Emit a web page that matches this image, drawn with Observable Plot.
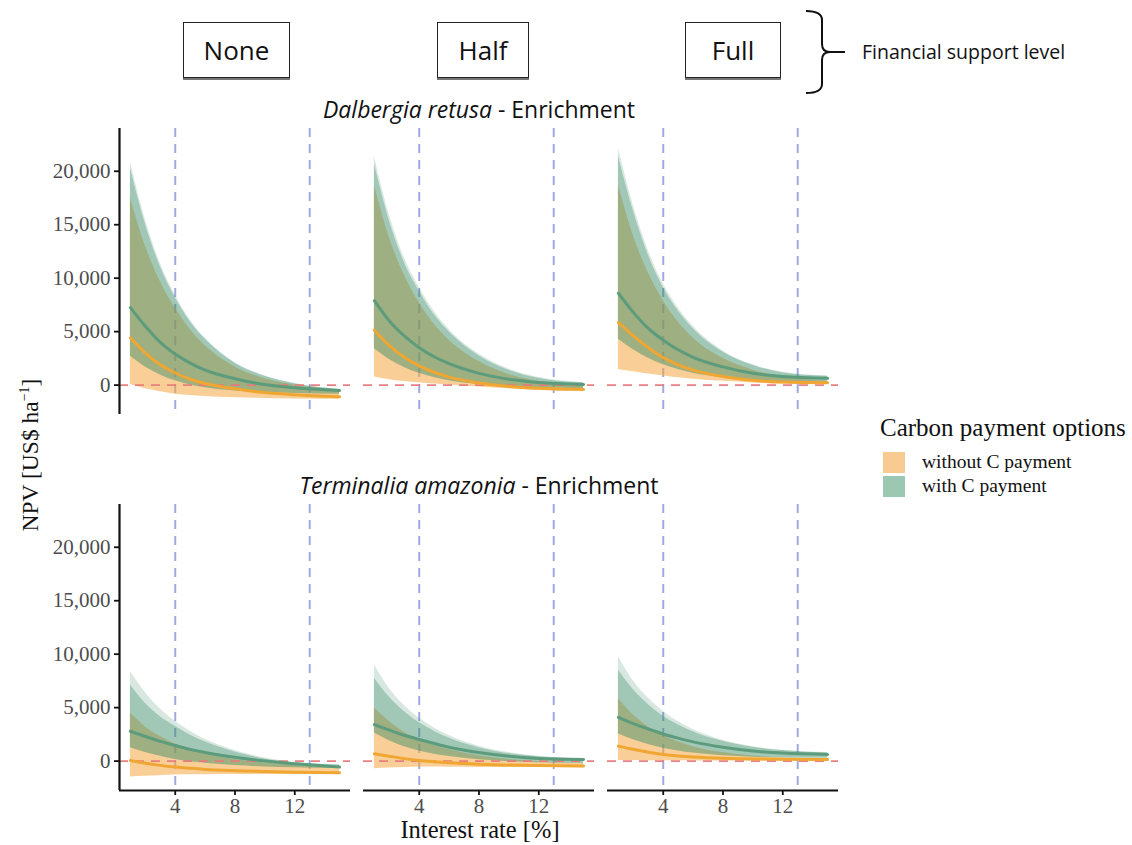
<!DOCTYPE html>
<html>
<head>
<meta charset="utf-8">
<script src="https://cdn.jsdelivr.net/npm/d3@7"></script>
<script src="https://cdn.jsdelivr.net/npm/@observablehq/plot@0.6"></script>
<style>
  body { margin: 0; background: #fff; }
  #wrap { position: relative; width: 1132px; height: 845px; overflow: hidden; }
  #header { position: relative; height: 90px; }
  .box { position: absolute; top: 22px; height: 56px; border: 1.5px solid #222; box-shadow: 0 2px 0 #777;
         box-sizing: border-box; font-family: "Open Sans", sans-serif; font-size: 26px; color: #111;
         display: flex; align-items: center; justify-content: center; }
  #brace { position: absolute; left: 800px; top: 0; }
  #fsl { position: absolute; left: 862px; top: 38px; font-family: "Open Sans", sans-serif; font-size: 19.5px; color: #111; }
  #legend { position: absolute; left: 880px; top: 414px; font-family: "Liberation Serif", serif; color: #111; }
  #legend .ttl { font-size: 25px; margin-bottom: 8px; }
  #legend .item { display: flex; align-items: center; height: 24px; font-size: 19.5px; }
  #legend .sw { width: 22px; height: 21px; margin-left: 3px; margin-right: 17px; }
  #chart { display: block; }
</style>
</head>
<body>
<div id="wrap">
  <div id="header"></div>
  <div id="chart"></div>
  <div id="legend"></div>
</div>
<script>
// ---------------- data ----------------
const rates = [1, 2, 3, 4, 5, 6, 8, 10, 12, 15];
const supportLevels = ["None", "Half", "Full"];
const speciesNames = ["Dalbergia retusa", "Terminalia amazonia"];
const seriesNames = ["without C payment", "with C payment"];
const yTicks = [0, 5000, 10000, 15000, 20000];
const xTicks = [4, 8, 12];
const refRates = [4, 13];
const titleSuffix = " - Enrichment";
const headerLabel = "Financial support level";
const legendTitle = "Carbon payment options";

// Dalbergia retusa – None
const dalNone_noC_med = [4420, 3000, 1900, 1130, 550, 150, -350, -700, -900, -1100];
const dalNone_noC_lo  = [50, -350, -620, -850, -980, -1070, -1180, -1250, -1290, -1320];
const dalNone_noC_hi  = [17500, 13000, 9700, 7200, 5200, 3700, 1700, 600, 0, -450];
const dalNone_C_med   = [7240, 5500, 4000, 2900, 2050, 1400, 600, 50, -250, -500];
const dalNone_C_lo    = [2700, 1700, 950, 400, 0, -250, -550, -700, -780, -850];
const dalNone_C_hi    = [20300, 15100, 11100, 8200, 5950, 4300, 2050, 820, 130, -410];
const dalNone_C_hi2   = [20900, 15500, 11400, 8450, 6100, 4420, 2120, 860, 160, -390];
// Dalbergia retusa – Half
const dalHalf_noC_med = [5140, 3700, 2600, 1790, 1200, 750, 200, -120, -300, -400];
const dalHalf_noC_lo  = [750, 500, 340, 220, 100, 0, -180, -350, -500, -630];
const dalHalf_noC_hi  = [18700, 13800, 10300, 7700, 5700, 4200, 2200, 1000, 350, -150];
const dalHalf_C_med   = [7900, 6000, 4600, 3500, 2650, 2000, 1100, 550, 250, 60];
const dalHalf_C_lo    = [3400, 2400, 1650, 1100, 700, 400, 50, -150, -250, -330];
const dalHalf_C_hi    = [20700, 15400, 11500, 8800, 6600, 5000, 2750, 1400, 650, 220];
const dalHalf_C_hi2   = [21400, 15900, 11900, 9150, 6900, 5200, 2900, 1500, 700, 250];
// Dalbergia retusa – Full
const dalFull_noC_med = [5860, 4600, 3500, 2570, 1900, 1400, 800, 450, 280, 220];
const dalFull_noC_lo  = [1470, 1250, 1030, 850, 680, 550, 350, 200, 100, 60];
const dalFull_noC_hi  = [18700, 14000, 10500, 7900, 5900, 4400, 2500, 1400, 750, 350];
const dalFull_C_med   = [8590, 6800, 5300, 4200, 3300, 2600, 1700, 1100, 800, 630];
const dalFull_C_lo    = [4290, 3300, 2500, 1900, 1450, 1100, 700, 450, 320, 250];
const dalFull_C_hi    = [21400, 16300, 12200, 9150, 6950, 5300, 3100, 1850, 1150, 820];
const dalFull_C_hi2   = [22150, 16800, 12600, 9470, 7200, 5500, 3200, 1900, 1200, 850];
// Terminalia amazonia – None
const terNone_noC_med = [60, -200, -400, -560, -680, -780, -900, -980, -1040, -1090];
const terNone_noC_lo  = [-1490, -1420, -1360, -1300, -1280, -1270, -1260, -1250, -1245, -1240];
const terNone_noC_hi  = [4490, 3200, 2300, 1600, 1100, 700, 150, -200, -420, -600];
const terNone_C_med   = [2790, 2300, 1850, 1460, 1100, 800, 350, 0, -250, -560];
const terNone_C_lo    = [1240, 800, 450, 150, -50, -200, -420, -550, -620, -700];
const terNone_C_hi    = [7130, 5400, 4150, 3260, 2450, 1800, 850, 200, -150, -370];
const terNone_C_hi2   = [8370, 6400, 4900, 3720, 2800, 2050, 1000, 300, -100, -350];
// Terminalia amazonia – Half
const terHalf_noC_med = [680, 450, 230, 60, -60, -160, -290, -370, -420, -460];
const terHalf_noC_lo  = [-710, -650, -600, -560, -560, -570, -590, -600, -610, -620];
const terHalf_noC_hi  = [4960, 3700, 2700, 2000, 1450, 1050, 500, 150, -50, -200];
const terHalf_C_med   = [3410, 2900, 2420, 2020, 1650, 1300, 800, 450, 250, 150];
const terHalf_C_lo    = [2630, 1900, 1350, 950, 650, 420, 130, -50, -150, -230];
const terHalf_C_hi    = [7750, 6000, 4650, 3600, 2800, 2150, 1250, 700, 400, 180];
const terHalf_C_hi2   = [8990, 6800, 5200, 4030, 3100, 2400, 1400, 800, 450, 200];
// Terminalia amazonia – Full
const terFull_noC_med = [1400, 1100, 830, 620, 480, 380, 260, 200, 170, 150];
const terFull_noC_lo  = [60, 50, 40, 30, 25, 20, 10, 5, 0, 0];
const terFull_noC_hi  = [5830, 4300, 3200, 2400, 1800, 1350, 800, 480, 300, 200];
const terFull_C_med   = [4090, 3500, 3000, 2540, 2150, 1800, 1300, 950, 750, 620];
const terFull_C_lo    = [2540, 2000, 1550, 1200, 950, 750, 500, 370, 300, 260];
const terFull_C_hi    = [8530, 6700, 5300, 4200, 3400, 2750, 1850, 1300, 980, 770];
const terFull_C_hi2   = [9770, 7500, 5900, 4650, 3700, 2950, 1950, 1350, 1000, 800];

// ---------------- table ----------------
const panels = [
  [speciesNames[0], supportLevels[0], [dalNone_noC_med, dalNone_noC_lo, dalNone_noC_hi], [dalNone_C_med, dalNone_C_lo, dalNone_C_hi, dalNone_C_hi2]],
  [speciesNames[0], supportLevels[1], [dalHalf_noC_med, dalHalf_noC_lo, dalHalf_noC_hi], [dalHalf_C_med, dalHalf_C_lo, dalHalf_C_hi, dalHalf_C_hi2]],
  [speciesNames[0], supportLevels[2], [dalFull_noC_med, dalFull_noC_lo, dalFull_noC_hi], [dalFull_C_med, dalFull_C_lo, dalFull_C_hi, dalFull_C_hi2]],
  [speciesNames[1], supportLevels[0], [terNone_noC_med, terNone_noC_lo, terNone_noC_hi], [terNone_C_med, terNone_C_lo, terNone_C_hi, terNone_C_hi2]],
  [speciesNames[1], supportLevels[1], [terHalf_noC_med, terHalf_noC_lo, terHalf_noC_hi], [terHalf_C_med, terHalf_C_lo, terHalf_C_hi, terHalf_C_hi2]],
  [speciesNames[1], supportLevels[2], [terFull_noC_med, terFull_noC_lo, terFull_noC_hi], [terFull_C_med, terFull_C_lo, terFull_C_hi, terFull_C_hi2]]
];
const rows = [];
for (const [species, support, o, g] of panels) {
  rates.forEach((rate, i) => {
    rows.push({species, support, rate, series: seriesNames[0], med: o[0][i], lo: o[1][i], hi: o[2][i], hi2: o[2][i]});
    rows.push({species, support, rate, series: seriesNames[1], med: g[0][i], lo: g[1][i], hi: g[2][i], hi2: g[3][i]});
  });
}
const noC = rows.filter(d => d.series === seriesNames[0]);
const withC = rows.filter(d => d.series === seriesNames[1]);
const titles = speciesNames.map(species => ({species, support: supportLevels[1]}));

const orangeFill = "#f5a742", greenFill = "#3a8c68";
const orangeLine = "#f0a632", greenLine = "#5c9c7c";
const xDomain = [0.27, 15.73], yDomain = [-2750, 24000];
const facet = {fx: "support", fy: "species"};

const chart = Plot.plot({
  width: 1132,
  height: 755,
  marginLeft: 118,
  marginRight: 292,
  marginTop: 38,
  marginBottom: 55,
  style: {fontFamily: "Liberation Serif", background: "white"},
  x: {domain: xDomain},
  y: {domain: yDomain},
  fx: {domain: supportLevels, axis: null, paddingInner: 0.053, paddingOuter: 0},
  fy: {domain: speciesNames, axis: null, paddingInner: 0.24, paddingOuter: 0},
  marks: [
    Plot.ruleX(refRates, {stroke: "#a0a9e2", strokeWidth: 2, strokeDasharray: "9,7"}),
    Plot.areaY(noC, {...facet, x: "rate", y1: "lo", y2: "hi", fill: orangeFill, fillOpacity: 0.55, curve: "monotone-x"}),
    Plot.areaY(withC, {...facet, x: "rate", y1: "hi", y2: "hi2", fill: greenFill, fillOpacity: 0.2, curve: "monotone-x"}),
    Plot.areaY(withC, {...facet, x: "rate", y1: "lo", y2: "hi", fill: greenFill, fillOpacity: 0.48, curve: "monotone-x"}),
    Plot.ruleY([0], {stroke: "#e67a7a", strokeWidth: 1.8, strokeDasharray: "9,7", strokeOpacity: 0.95}),
    Plot.lineY(noC, {...facet, x: "rate", y: "med", stroke: orangeLine, strokeWidth: 3, curve: "monotone-x"}),
    Plot.lineY(withC, {...facet, x: "rate", y: "med", stroke: greenLine, strokeWidth: 3, curve: "monotone-x"}),
    Plot.ruleX([xDomain[0]], {facetAnchor: "left", stroke: "#111", strokeWidth: 2.2}),
    Plot.ruleY([yDomain[0]], {facetAnchor: "bottom", stroke: "#111", strokeWidth: 2.2}),
    Plot.axisY({ticks: yTicks, tickFormat: d3.format(","), tickSize: 5, tickPadding: 4, fontSize: 21,
                label: null, fill: "#4d4d4d", stroke: "#111", strokeWidth: 1.8}),
    Plot.axisX({ticks: xTicks, tickSize: 5, tickPadding: 3, fontSize: 21,
                label: null, fill: "#4d4d4d", stroke: "#111", strokeWidth: 1.8}),
    Plot.text(titles, {...facet, text: "species", frameAnchor: "top", dy: -27, fontSize: 23,
                       fontFamily: "Open Sans", fill: "#111"})
  ]
});

const svg = d3.select(chart);
// italic species name + normal suffix
svg.selectAll("text").filter(function() { return speciesNames.includes(this.textContent); }).each(function() {
  const t = d3.select(this);
  const name = t.text();
  t.text(null);
  t.append("tspan").attr("font-style", "italic").text(name);
  t.append("tspan").text(titleSuffix);
});
// axis titles
const yl = svg.append("text").attr("transform", "translate(38,365) rotate(-90)")
  .attr("text-anchor", "middle").attr("font-size", 23.5).attr("fill", "#111").attr("font-family", "Liberation Serif");
yl.append("tspan").text("NPV [US$ ha");
yl.append("tspan").attr("font-size", 14).attr("dy", -9).text("−1");
yl.append("tspan").attr("dy", 9).text("]");
svg.append("text").attr("x", 480).attr("y", 748).attr("text-anchor", "middle")
  .attr("font-size", 24.5).attr("fill", "#111").attr("font-family", "Liberation Serif").text("Interest rate [%]");

document.getElementById("chart").appendChild(chart);

// header
const header = d3.select("#header");
const boxPos = [[183, 107], [437, 92], [685, 96]];
supportLevels.forEach((s, i) => {
  header.append("div").attr("class", "box").style("left", boxPos[i][0] + "px").style("width", boxPos[i][1] + "px").text(s);
});
const br = header.append("svg").attr("id", "brace").attr("width", 50).attr("height", 100);
br.append("path").attr("d", "M6,11 Q22,11 22,20 L22,44 Q22,52 30,52 Q22,52 22,60 L22,84 Q22,93 6,93 M30,52 L45,52")
  .attr("fill", "none").attr("stroke", "#111").attr("stroke-width", 2);
header.append("div").attr("id", "fsl").text(headerLabel);

// legend
const lg = d3.select("#legend");
lg.append("div").attr("class", "ttl").text(legendTitle);
const swatchColors = ["#f8cb92", "#9cc8b3"];
seriesNames.forEach((s, i) => {
  const it = lg.append("div").attr("class", "item");
  it.append("div").attr("class", "sw").style("background", swatchColors[i]);
  it.append("span").text(s);
});
</script>
</body>
</html>
